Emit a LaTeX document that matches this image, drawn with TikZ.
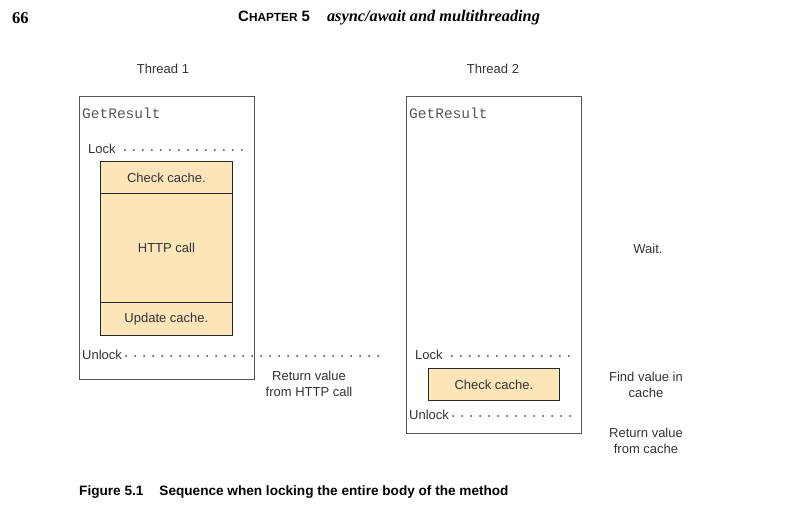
\documentclass[tikz,border=0pt]{standalone}
\usepackage{fontspec}
\setmainfont{Liberation Serif}
\setsansfont{Liberation Sans}
\setmonofont{Liberation Mono}
\definecolor{fillc}{HTML}{FDE5BA}
\definecolor{txt}{HTML}{333333}
\definecolor{frame}{HTML}{555555}
\definecolor{codec}{HTML}{555555}
\begin{document}
\begin{tikzpicture}[x=1pt,y=-1pt,
  lbl/.style={font=\sffamily\fontsize{13}{15.5}\selectfont, text=txt, inner sep=0pt},
  side/.style={lbl, align=center},
  code/.style={font=\ttfamily\fontsize{14.5}{16}\selectfont, text=codec, inner sep=0pt, anchor=west},
  thread/.style={draw=frame, line width=0.8pt, anchor=north west, inner sep=0pt},
  task/.style={draw=black!85, fill=fillc, line width=0.8pt, anchor=north west, inner sep=0pt, font=\sffamily\fontsize{13}{15.5}\selectfont, text=txt},
  dots/.style={line width=2.1pt, line cap=round, dash pattern=on 0pt off 9pt, draw=black!75}]
\useasboundingbox (0,0) rectangle (801,524);
% header
\node[anchor=west, inner sep=0pt] (page) at (12,18) {\bfseries\fontsize{16.5}{18}\selectfont 66};
\node[anchor=west, inner sep=0pt] (chap) at (238,18) {\sffamily\bfseries\fontsize{15}{17}\selectfont C{\fontsize{11.8}{13}\selectfont HAPTER} 5\hspace{17pt}\rmfamily\itshape\fontsize{16.3}{18}\selectfont async/await and multithreading};
% thread labels
\node[lbl] (th1) at (163,69) {Thread 1};
\node[lbl] (th2) at (493,69) {Thread 2};
% thread boxes
\node[thread, minimum width=175pt, minimum height=283pt] (t1) at (79,96) {};
\node[thread, minimum width=175pt, minimum height=337pt] (t2) at (406,96) {};
\node[code] (gr1) at (82,113) {GetResult};
\node[code] (gr2) at (409,113) {GetResult};
% thread 1 content
\node[lbl, anchor=west] (lock1) at (88,149) {Lock};
\coordinate (lock1end) at (248,150);
\draw[dots] ([xshift=9pt,yshift=-1pt]lock1.east) -- (lock1end);
\node[task, minimum width=132pt, minimum height=32pt] (check1) at (100,161) {Check cache.};
\node[task, minimum width=132pt, minimum height=109pt] (http) at (100,193) {HTTP call};
\node[task, minimum width=132pt, minimum height=33pt] (update) at (100,302) {Update cache.};
\node[lbl, anchor=west] (unlock1) at (82,355) {Unlock};
\coordinate (unlock1end) at (382,356);
\draw[dots] ([xshift=4pt,yshift=-1pt]unlock1.east) -- (unlock1end);
\node[side] (ret1) at (309,384) {Return value\\from HTTP call};
% thread 2 content
\node[lbl] (wait) at (648,249) {Wait.};
\node[lbl, anchor=west] (lock2) at (415,355) {Lock};
\coordinate (lock2end) at (576,356);
\draw[dots] ([xshift=9pt,yshift=-1pt]lock2.east) -- (lock2end);
\node[task, minimum width=131pt, minimum height=32pt] (check2) at (428,368) {Check cache.};
\node[side] (find) at (646,385) {Find value in\\cache};
\node[lbl, anchor=west] (unlock2) at (409,415) {Unlock};
\coordinate (unlock2end) at (577,416);
\draw[dots] ([xshift=4pt,yshift=-1pt]unlock2.east) -- (unlock2end);
\node[side] (ret2) at (646,441) {Return value\\from cache};
% caption
\node[anchor=west, inner sep=0pt] (cap) at (79,492) {\sffamily\bfseries\fontsize{13.6}{15}\selectfont Figure 5.1\hspace{16pt}Sequence when locking the entire body of the method};
\end{tikzpicture}
\end{document}
